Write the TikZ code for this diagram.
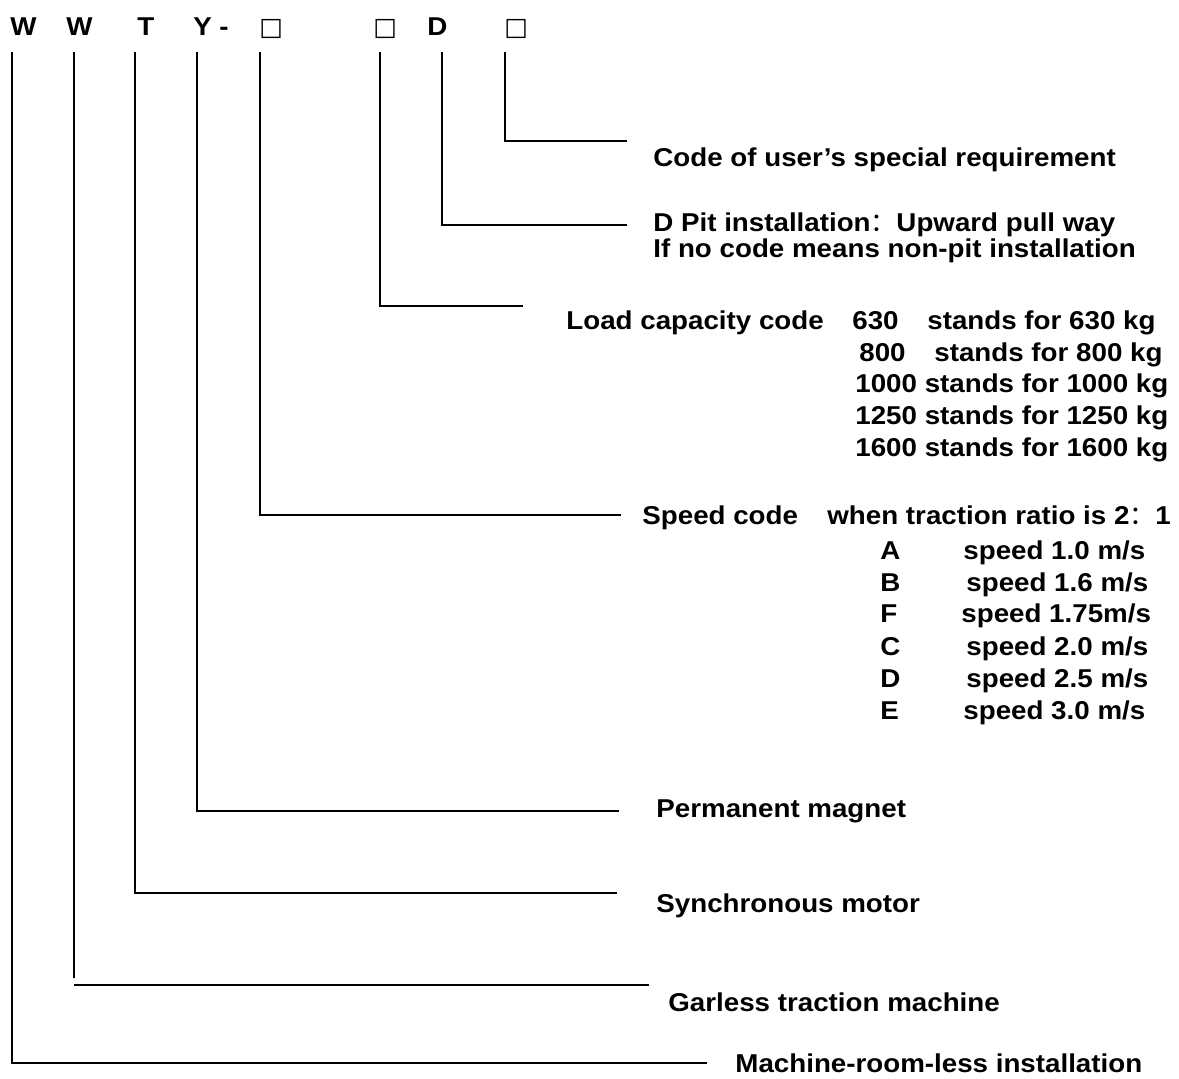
\documentclass[tikz,border=0pt]{standalone}
\usepackage{fontspec}
\setmainfont{Liberation Sans}[FakeStretch=1.075]
\newfontfamily\cjk{Noto Sans CJK SC}
\newfontfamily\boxfont{DejaVu Sans}
\usepackage{tikz}

\begin{document}
\begin{tikzpicture}[x=0.5pt,y=-0.5pt,
  font=\fontsize{12.9}{16}\selectfont\bfseries,
  lbl/.style={anchor=base west,inner sep=0pt},
  box/.style={lbl,font=\fontsize{12.5}{16}\selectfont\boxfont},
  ln/.style={line width=0.8pt,black}]
  \useasboundingbox (0,0) rectangle (1179,1079);

  % model code
  \node[lbl] (hW1) at (10,36) {W};
  \node[lbl] (hW2) at (66,36) {W};
  \node[lbl] (hT) at (137,36) {T};
  \node[lbl] (hY) at (193,36) {Y};
  \node[lbl] (hdash) at (219,36) {-};
  \node[box] (hb1) at (259,36) {□};
  \node[box] (hb2) at (373,36) {□};
  \node[lbl] (hD) at (427,36) {D};
  \node[box] (hb3) at (504,36) {□};

  % legend texts
  \node[lbl] (req) at (653,167) {Code of user’s special requirement};
  \node[lbl] (pit) at (653,232) {D Pit installation{\cjk\mdseries ：}Upward pull way};
  \node[lbl] (nopit) at (653,258) {If no code means non-pit installation};

  \node[lbl] (load) at (566,330) {Load capacity code};
  \node[lbl] (k630) at (852,330) {630};
  \node[lbl] (s630) at (927,330) {stands for 630 kg};
  \node[lbl] (k800) at (859,362) {800};
  \node[lbl] (s800) at (934,362) {stands for 800 kg};
  \node[lbl] (k1000) at (855,393) {1000 stands for 1000 kg};
  \node[lbl] (k1250) at (855,425) {1250 stands for 1250 kg};
  \node[lbl] (k1600) at (855,457) {1600 stands for 1600 kg};

  \node[lbl] (spd) at (642,525) {Speed code};
  \node[lbl] (ratio) at (827,525) {when traction ratio is 2{\cjk\mdseries ：}1};
  \node[lbl] (cA) at (880,560) {A};
  \node[lbl] (vA) at (963,560) {speed 1.0 m/s};
  \node[lbl] (cB) at (880,592) {B};
  \node[lbl] (vB) at (966,592) {speed 1.6 m/s};
  \node[lbl] (cF) at (880,623) {F};
  \node[lbl] (vF) at (961,623) {speed 1.75m/s};
  \node[lbl] (cC) at (880,656) {C};
  \node[lbl] (vC) at (966,656) {speed 2.0 m/s};
  \node[lbl] (cD) at (880,688) {D};
  \node[lbl] (vD) at (966,688) {speed 2.5 m/s};
  \node[lbl] (cE) at (880,720) {E};
  \node[lbl] (vE) at (963,720) {speed 3.0 m/s};

  \node[lbl] (pm) at (656,818) {Permanent magnet};
  \node[lbl] (sm) at (656,913) {Synchronous motor};
  \node[lbl] (gtm) at (668,1011) {Garless traction machine};
  \node[lbl] (mrl) at (735,1072) {Machine-room-less installation};

  % leader lines
  \coordinate (t1) at (12,52);  \coordinate (e1) at (707,1063);
  \coordinate (t2) at (74,52);  \coordinate (m2) at (74,978);
  \coordinate (s2) at (74,985); \coordinate (e2) at (649,985);
  \coordinate (t3) at (135,52); \coordinate (e3) at (617,893);
  \coordinate (t4) at (197,52); \coordinate (e4) at (619,811);
  \coordinate (t5) at (260,52); \coordinate (e5) at (621,515);
  \coordinate (t6) at (380,52); \coordinate (e6) at (523,306);
  \coordinate (t7) at (442,52); \coordinate (e7) at (627,225);
  \coordinate (t8) at (505,52); \coordinate (e8) at (627,141);

  \draw[ln] (t1) |- (e1);
  \draw[ln] (t2) -- (m2); \draw[ln] (s2) -- (e2);
  \draw[ln] (t3) |- (e3);
  \draw[ln] (t4) |- (e4);
  \draw[ln] (t5) |- (e5);
  \draw[ln] (t6) |- (e6);
  \draw[ln] (t7) |- (e7);
  \draw[ln] (t8) |- (e8);
\end{tikzpicture}
\end{document}
